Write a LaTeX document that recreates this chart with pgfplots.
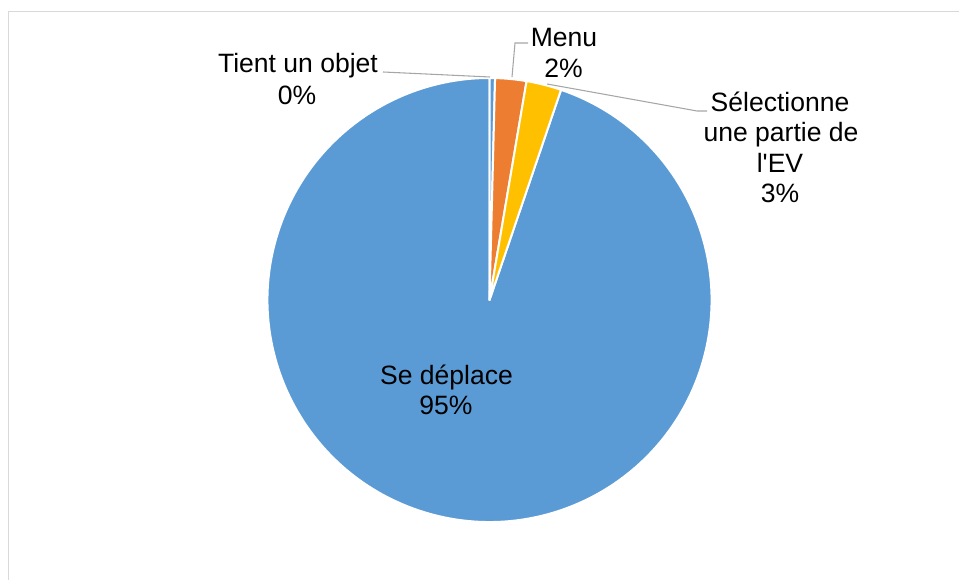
\documentclass[border=0pt]{standalone}
\usepackage{fontspec}
\setmainfont{Liberation Sans}
\usepackage{pgfplots}
\usepackage{pgfplotstable}
\pgfplotsset{compat=1.18}
\definecolor{cblue}{HTML}{5B9BD5}
\definecolor{corange}{HTML}{ED7D31}
\definecolor{cyellow}{HTML}{FFC000}
\definecolor{cframe}{HTML}{D9D9D9}
\definecolor{cleader}{HTML}{A6A6A6}

% share of each slice (percent), clockwise from 12 o'clock
\pgfplotstableread{
label value
Tient 0.40
Menu 2.27
Sel 2.55
Dep 94.78
}\piedata

\begin{document}
\pgfplotstablegetelem{0}{value}\of\piedata\pgfmathsetmacro\vA{\pgfplotsretval}%
\pgfplotstablegetelem{1}{value}\of\piedata\pgfmathsetmacro\vB{\pgfplotsretval}%
\pgfplotstablegetelem{2}{value}\of\piedata\pgfmathsetmacro\vC{\pgfplotsretval}%
\pgfplotstablegetelem{3}{value}\of\piedata\pgfmathsetmacro\vD{\pgfplotsretval}%
\pgfmathsetmacro\sA{90}%
\pgfmathsetmacro\sB{\sA-3.6*\vA}%
\pgfmathsetmacro\sC{\sB-3.6*\vB}%
\pgfmathsetmacro\sD{\sC-3.6*\vC}%
\pgfmathsetmacro\sE{\sD-3.6*\vD}%
\begin{tikzpicture}[lbl/.style={anchor=base, inner sep=0pt, font=\fontsize{19.9}{23}\selectfont}]
\begin{axis}[scale only axis, width=719.25pt, height=435pt,
  xmin=0, xmax=959, ymin=0, ymax=580, hide axis, clip=false]
% frame (only top and left edges visible)
\draw[cframe, line width=1.2pt] (axis cs:8.3,-5) -- (axis cs:8.3,568.5) -- (axis cs:975,568.5);
% slices
\filldraw[fill=cblue, draw=white, line width=1.5pt, line join=round]
  (axis cs:489.5,280) -- ++(\sD:166.5pt) arc[start angle=\sD, end angle=\sE, radius=166.5pt] -- cycle;
\filldraw[fill=cblue, draw=white, line width=1.5pt, line join=round]
  (axis cs:489.5,280) -- ++(\sA:166.5pt) arc[start angle=\sA, end angle=\sB, radius=166.5pt] -- cycle;
\filldraw[fill=corange, draw=white, line width=1.5pt, line join=round]
  (axis cs:489.5,280) -- ++(\sB:166.5pt) arc[start angle=\sB, end angle=\sC, radius=166.5pt] -- cycle;
\filldraw[fill=cyellow, draw=white, line width=1.5pt, line join=round]
  (axis cs:489.5,280) -- ++(\sC:166.5pt) arc[start angle=\sC, end angle=\sD, radius=166.5pt] -- cycle;
% leader lines
\draw[cleader, line width=0.8pt] (axis cs:383,508) -- (axis cs:490,503);
\draw[cleader, line width=0.8pt] (axis cs:528,537) -- (axis cs:515,537) -- (axis cs:512,503);
\draw[cleader, line width=0.8pt] (axis cs:547,496) -- (axis cs:697,469) -- (axis cs:707,469);
% labels
\node[lbl] at (axis cs:298,507) {Tient un objet};
\node[lbl] at (axis cs:297,475) {0\%};
\node[lbl] at (axis cs:564,533) {Menu};
\node[lbl] at (axis cs:563.5,502) {2\%};
\node[lbl] at (axis cs:780,468.5) {Sélectionne};
\node[lbl] at (axis cs:781,438) {une partie de};
\node[lbl] at (axis cs:780,407.5) {l\textquotesingle EV};
\node[lbl] at (axis cs:780,377) {3\%};
\node[lbl] at (axis cs:446.5,195) {Se déplace};
\node[lbl] at (axis cs:446,165) {95\%};
\end{axis}
\pgfresetboundingbox
\path[use as bounding box] (0,0) rectangle (719.25pt,435pt);
\end{tikzpicture}
\end{document}
